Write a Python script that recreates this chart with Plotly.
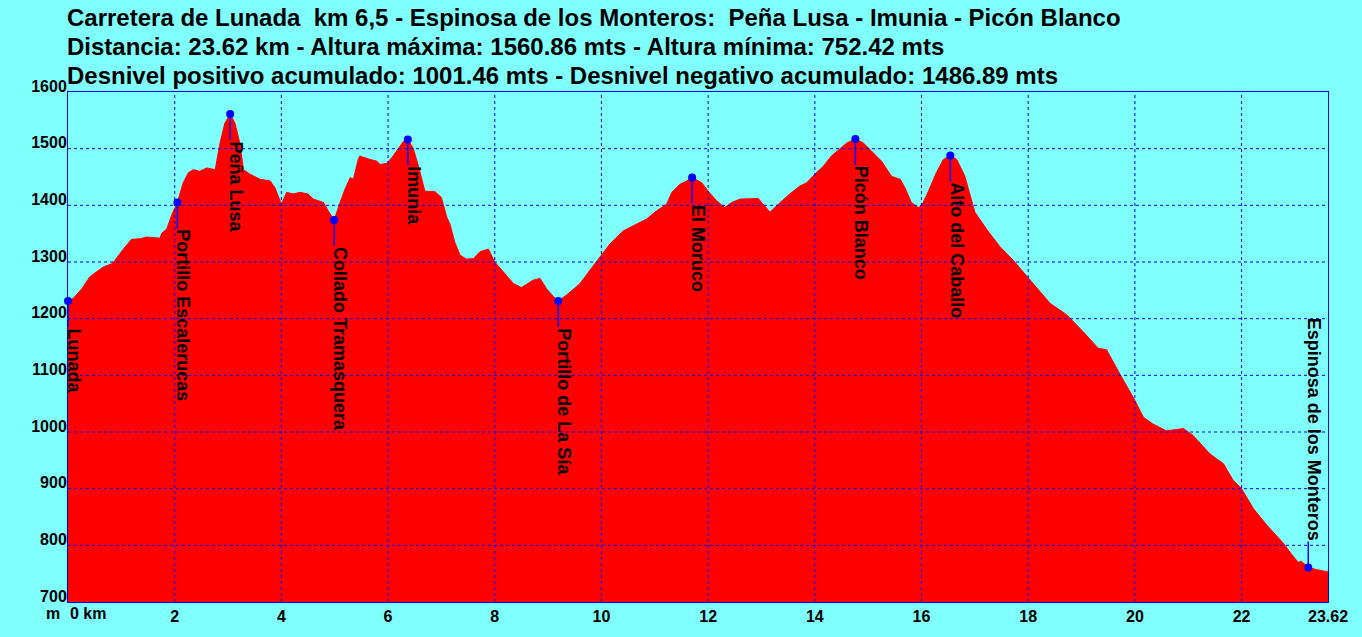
import plotly.graph_objects as go

# elevation profile (km, m)
dist_km = [
    0.00, 0.10, 0.26, 0.41, 0.54, 0.66, 0.82, 0.88, 1.04, 1.19, 1.35, 1.47, 1.72, 1.76, 1.85, 1.94,
    2.05, 2.16, 2.26, 2.35, 2.47, 2.60, 2.76, 2.79, 2.85, 2.94, 3.04, 3.13, 3.22, 3.29, 3.41, 3.60,
    3.79, 3.88, 3.97, 4.00, 4.10, 4.22, 4.35, 4.50, 4.60, 4.79, 4.88, 4.99, 5.10, 5.19, 5.29, 5.35,
    5.44, 5.47, 5.66, 5.79, 5.85, 5.97, 6.07, 6.19, 6.29, 6.37, 6.47, 6.57, 6.69, 6.88, 7.00, 7.10,
    7.16, 7.25, 7.35, 7.47, 7.60, 7.72, 7.88, 8.00, 8.16, 8.35, 8.50, 8.63, 8.72, 8.85, 8.97, 9.10,
    9.19, 9.35, 9.60, 9.78, 10.00, 10.16, 10.41, 10.66, 10.85, 11.03, 11.22, 11.32, 11.47, 11.60,
    11.70, 11.88, 12.00, 12.16, 12.31, 12.44, 12.60, 12.94, 13.03, 13.16, 13.35, 13.53, 13.72, 13.85,
    14.00, 14.16, 14.31, 14.47, 14.60, 14.76, 14.91, 15.06, 15.25, 15.44, 15.60, 15.69, 15.81, 15.94,
    16.00, 16.13, 16.28, 16.41, 16.54, 16.66, 16.81, 17.00, 17.22, 17.47, 17.72, 18.00, 18.41, 18.72,
    19.03, 19.31, 19.47, 19.72, 19.97, 20.16, 20.34, 20.59, 20.91, 21.09, 21.41, 21.66, 21.84, 22.00,
    22.22, 22.47, 22.78, 22.94, 23.06, 23.12, 23.25, 23.41, 23.62,
]
elev_m = [
    1231, 1236, 1253, 1274, 1283, 1291, 1297, 1303, 1323, 1340, 1341, 1344, 1342, 1351, 1358, 1382,
    1405, 1440, 1458, 1463, 1460, 1466, 1463, 1481, 1510, 1545, 1561, 1545, 1510, 1463, 1455, 1446,
    1443, 1431, 1411, 1402, 1423, 1420, 1423, 1420, 1411, 1405, 1390, 1374, 1405, 1428, 1449, 1446,
    1481, 1487, 1481, 1478, 1472, 1474, 1484, 1501, 1513, 1516, 1501, 1469, 1425, 1424, 1414, 1379,
    1367, 1335, 1312, 1305, 1306, 1318, 1323, 1300, 1283, 1262, 1255, 1262, 1268, 1271, 1253, 1239,
    1231, 1242, 1262, 1285, 1312, 1332, 1355, 1367, 1376, 1390, 1402, 1423, 1437, 1443,
    1449, 1440, 1425, 1408, 1396, 1405, 1411, 1412, 1402, 1388, 1405, 1420, 1434, 1440,
    1455, 1469, 1487, 1499, 1510, 1517, 1510, 1496, 1478, 1451, 1446, 1431, 1405, 1396,
    1399, 1425, 1458, 1481, 1488, 1481, 1452, 1388, 1358, 1327, 1303, 1272, 1227, 1207,
    1177, 1148, 1145, 1102, 1061, 1026, 1014, 1002, 1006, 994, 961, 944, 915, 900,
    865, 836, 804, 784, 770, 772, 761, 757, 753,
]

# waypoints
wp_names = ["Lunada", "Portillo Escalerucas", "Peña Lusa", "Collado Tramasquera", "Imunia",
            "Portillo de La Sía", "El Moruco", "Picón Blanco", "Alto del Caballo",
            "Espinosa de los Monteros"]
wp_km = [0.0, 2.05, 3.04, 4.99, 6.37, 9.19, 11.70, 14.76, 16.54, 23.25]
wp_elev = [1231, 1405, 1561, 1374, 1516, 1231, 1449, 1517, 1488, 761]

x_ticks = [2, 4, 6, 8, 10, 12, 14, 16, 18, 20, 22, 23.62]
x_ticktext = ["2", "4", "6", "8", "10", "12", "14", "16", "18", "20", "22", "23.62"]
y_ticks = [700, 800, 900, 1000, 1100, 1200, 1300, 1400, 1500, 1600]

title_lines = [
    "Carretera de Lunada  km 6,5 - Espinosa de los Monteros:  Peña Lusa - Imunia - Picón Blanco",
    "Distancia: 23.62 km - Altura máxima: 1560.86 mts - Altura mínima: 752.42 mts",
    "Desnivel positivo acumulado: 1001.46 mts - Desnivel negativo acumulado: 1486.89 mts",
]

FONT = "Liberation Sans, Arial, sans-serif"
BLUE = "#0000FF"
BG = "#80FFFF"

fig = go.Figure()

fig.add_trace(
    go.Scatter(
        x=dist_km,
        y=elev_m,
        mode="lines",
        fill="tozeroy",
        fillcolor="#FF0000",
        line=dict(color="#FF0000", width=1),
        hoverinfo="skip",
    )
)

fig.add_trace(
    go.Scatter(
        x=wp_km,
        y=wp_elev,
        mode="markers",
        marker=dict(color=BLUE, size=8),
        cliponaxis=False,
        hovertext=wp_names,
    )
)

# dashed grid drawn over the filled area
shapes = []
for xv in x_ticks[:-1]:
    shapes.append(dict(type="line", xref="x", yref="paper", x0=xv, x1=xv, y0=0, y1=1,
                       line=dict(color=BLUE, width=1, dash="3px,3px"), layer="above"))
for yv in y_ticks[1:-1]:
    shapes.append(dict(type="line", xref="paper", yref="y", x0=0, x1=1, y0=yv, y1=yv,
                       line=dict(color=BLUE, width=1, dash="3px,3px"), layer="above"))

annotations = []
for i, line in enumerate(title_lines):
    annotations.append(dict(
        text="<b>" + line + "</b>", xref="paper", yref="paper", x=0, y=[1.1459, 1.0895, 1.0331][i],
        xanchor="left", yanchor="middle", xshift=-3, showarrow=False,
        font=dict(family=FONT, size=24, color="black"),
    ))

# waypoint stems (pixel length) and labels
for name, xk, ye in zip(wp_names, wp_km, wp_elev):
    up = name == "Espinosa de los Monteros"
    shapes.append(dict(type="line", xref="x", yref="y", x0=xk, x1=xk,
                       ysizemode="pixel", yanchor=ye, y0=0, y1=26 if up else -26,
                       line=dict(color=BLUE, width=1.5), layer="above"))
    # invisible arrow only places the rotated text at the stem end
    annotations.append(dict(
        text="<b>" + name + "</b>", x=xk, y=ye, xref="x", yref="y",
        showarrow=True, arrowhead=0, arrowwidth=1, arrowcolor="rgba(0,0,0,0)",
        ax=0, ay=-26 if up else 26, textangle=90,
        xanchor="right" if up else "left", yanchor="bottom", xshift=-5,
        borderpad=0, font=dict(family=FONT, size=18, color="black"),
    ))

annotations.append(dict(text="<b>m</b>", xref="paper", yref="paper", x=0, y=0, xanchor="right",
                        yanchor="top", yshift=-1, xshift=-6, showarrow=False,
                        font=dict(family=FONT, size=16, color="black")))
annotations.append(dict(text="<b>0 km</b>", xref="paper", yref="paper", x=0, y=0, xanchor="left",
                        yanchor="top", yshift=-1, showarrow=False,
                        font=dict(family=FONT, size=16, color="black")))

fig.update_layout(
    width=1362,
    height=637,
    paper_bgcolor=BG,
    plot_bgcolor=BG,
    margin=dict(l=68, r=34, t=92, b=31),
    showlegend=False,
    shapes=shapes,
    annotations=annotations,
    xaxis=dict(
        range=[0, 23.62],
        tickvals=x_ticks,
        ticktext=x_ticktext,
        showgrid=False,
        zeroline=False,
        showline=True,
        linecolor=BLUE,
        linewidth=1,
        mirror=True,
        ticks="",
        ticklen=0,
        tickfont=dict(family=FONT, size=16, color="black", weight="bold"),
    ),
    yaxis=dict(
        range=[700, 1600],
        tickvals=y_ticks,
        showgrid=False,
        zeroline=False,
        showline=True,
        linecolor=BLUE,
        linewidth=1,
        mirror=True,
        ticks="",
        ticklen=0,
        ticklabelshift=-6,
        ticklabelstandoff=-3,
        tickfont=dict(family=FONT, size=16, color="black", weight="bold"),
    ),
)

fig.write_html("out.html", config={"displayModeBar": False},
               post_script="document.body.style.margin='0';")
